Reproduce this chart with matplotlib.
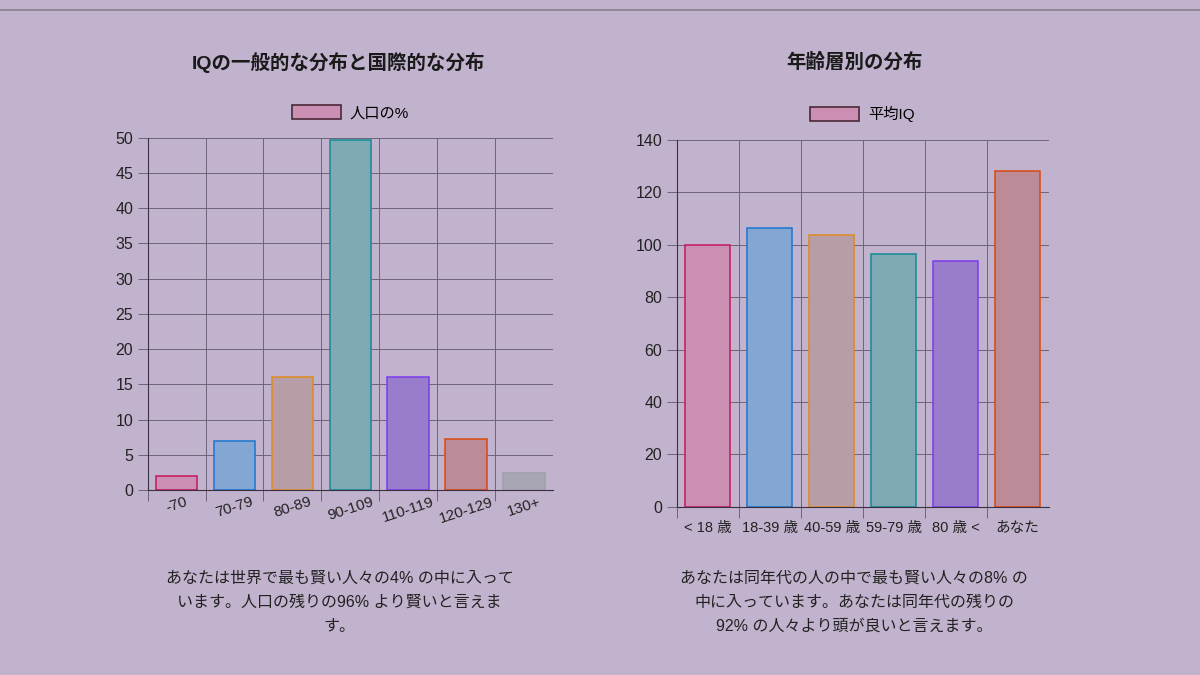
import numpy as np
import matplotlib
matplotlib.use("Agg")
import matplotlib.pyplot as plt
from matplotlib.patches import Patch

plt.rcParams['font.family'] = ['Liberation Sans', 'Noto Sans CJK JP', 'DejaVu Sans']

# data
iq_labels = ['-70', '70-79', '80-89', '90-109', '110-119', '120-129', '130+']
iq_pct = [2.0, 7.0, 16.0, 49.7, 16.1, 7.3, 2.4]

age_labels = ['< 18 歳', '18-39 歳', '40-59 歳', '59-79 歳', '80 歳 <', 'あなた']
age_iq = [100, 106.5, 103.5, 96.5, 93.7, 128]

bg = '#c1b3cd'
fills = ['#cc8fb4', '#84a6d2', '#b79ea6', '#7fa9b5', '#9a7ccc', '#bd8a98', '#a8a6b4']
edges = ['#c2185b', '#1976d2', '#e08a1e', '#138a96', '#7c3aed', '#d9480f', '#a0a0aa']
grid_c = '#6e6478'

fig = plt.figure(figsize=(12, 6.75), dpi=100)
fig.patch.set_facecolor(bg)

# top screen edge
fig.add_artist(plt.Line2D([0, 1], [0.985, 0.985], color='#8a8090', lw=1.2))


def style(ax, n, ymax, ystep):
    ax.set_facecolor(bg)
    ax.set_xlim(-0.5, n - 0.5)
    ax.set_ylim(0, ymax)
    ax.set_yticks(np.arange(0, ymax + 1, ystep))
    ax.set_xticks(np.arange(-0.5, n - 1), minor=True)
    ax.grid(True, which='minor', axis='x', color=grid_c, lw=0.7)
    ax.grid(True, which='major', axis='y', color=grid_c, lw=0.7)
    ax.tick_params(axis='x', which='major', length=0, labelsize=11, colors='#222')
    ax.tick_params(axis='x', which='minor', length=8, color=grid_c, width=0.7)
    ax.tick_params(axis='y', length=7, color=grid_c, width=0.7, labelsize=11.5, colors='#222')
    for s in ['top', 'right']:
        ax.spines[s].set_visible(False)
    ax.spines['left'].set_color('#3a3040')
    ax.spines['bottom'].set_color('#3a3040')
    ax.set_axisbelow(True)


# left chart
ax1 = fig.add_axes([0.123, 0.274, 0.338, 0.522])
x1 = np.arange(len(iq_labels))
ax1.bar(x1, iq_pct, width=0.72, color=fills[:len(x1)], edgecolor=edges[:len(x1)], linewidth=1.1)
style(ax1, len(iq_labels), 50, 5)
ax1.set_xticks(x1)
ax1.set_xticklabels(iq_labels, rotation=18, ha='center')
ax1.legend(handles=[Patch(facecolor='#cc8fb4', edgecolor='#4a2838', lw=1.2, label='人口の%')],
           loc='lower center', bbox_to_anchor=(0.5, 1.01), frameon=False, fontsize=11,
           handlelength=3.2, handleheight=1.0, handletextpad=0.6)
fig.text(0.282, 0.908, 'IQの一般的な分布と国際的な分布', ha='center', va='center',
         fontsize=14, fontweight='bold', color='#1a1a1a')
fig.text(0.283, 0.108, 'あなたは世界で最も賢い人々の4% の中に入って\nいます。人口の残りの96% より賢いと言えま\nす。',
         ha='center', va='center', fontsize=11.5, color='#222', linespacing=1.75)

# right chart
ax2 = fig.add_axes([0.564, 0.249, 0.310, 0.544])
x2 = np.arange(len(age_labels))
ax2.bar(x2, age_iq, width=0.72, color=fills[:len(x2)], edgecolor=edges[:len(x2)], linewidth=1.1)
style(ax2, len(age_labels), 140, 20)
ax2.set_xticks(x2)
ax2.set_xticklabels(age_labels)
ax2.tick_params(axis='x', which='major', labelsize=10.5, pad=10)
ax2.legend(handles=[Patch(facecolor='#cc8fb4', edgecolor='#4a2838', lw=1.2, label='平均IQ')],
           loc='lower center', bbox_to_anchor=(0.5, 1.01), frameon=False, fontsize=11,
           handlelength=3.2, handleheight=1.0, handletextpad=0.6)
fig.text(0.712, 0.908, '年齢層別の分布', ha='center', va='center',
         fontsize=14, fontweight='bold', color='#1a1a1a')
fig.text(0.712, 0.108, 'あなたは同年代の人の中で最も賢い人々の8% の\n中に入っています。あなたは同年代の残りの\n92% の人々より頭が良いと言えます。',
         ha='center', va='center', fontsize=11.5, color='#222', linespacing=1.75)

fig.savefig('out.png', dpi=100, facecolor=bg)
